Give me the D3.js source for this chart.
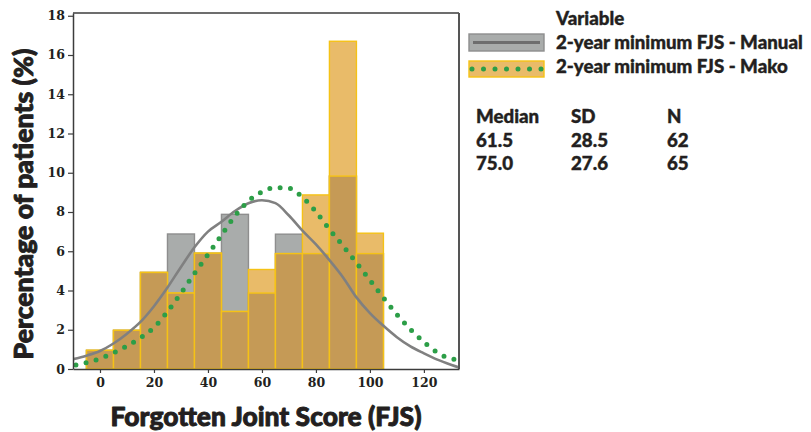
<!DOCTYPE html>
<html>
<head>
<meta charset="utf-8">
<script src="https://cdn.jsdelivr.net/npm/d3@7"></script>
<style>
  html, body { margin: 0; padding: 0; background: #fff; }
  svg { display: block; }
</style>
</head>
<body>
<svg id="chart" width="811" height="432"></svg>
<script>
// ---------------- data ----------------
const binCenters = [0, 10, 20, 30, 40, 50, 60, 70, 80, 90, 100];
const binWidth = 10;
const manualPct = [0.95, 1.97, 4.92, 6.88, 5.90, 7.88, 3.87, 6.87, 5.88, 9.83, 5.88];
const makoPct   = [0.95, 1.97, 4.92, 3.87, 5.90, 2.93, 5.07, 5.88, 8.87, 16.70, 6.92];

const curveX      = [-10, -5, 0, 5, 10, 15, 20, 25, 30, 35, 40, 45, 50, 55, 60, 65, 70, 75, 80, 85, 90, 95, 100, 105, 110, 115, 120, 125, 130, 133];
const manualCurve = [0.50, 0.68, 0.92, 1.30, 1.80, 2.40, 3.20, 4.15, 5.20, 6.20, 7.00, 7.50, 8.05, 8.45, 8.60, 8.45, 7.82, 7.05, 6.35, 5.55, 4.68, 3.65, 2.85, 2.20, 1.62, 1.15, 0.80, 0.48, 0.22, 0.08];
const makoCurve   = [0.17, 0.33, 0.53, 0.82, 1.17, 1.59, 2.12, 2.92, 3.87, 4.87, 5.83, 6.82, 7.80, 8.56, 9.02, 9.24, 9.21, 8.76, 8.01, 7.12, 6.28, 5.41, 4.53, 3.63, 2.78, 2.02, 1.37, 0.84, 0.52, 0.47];

const xTicks = [0, 20, 40, 60, 80, 100, 120];
const yTicks = [0, 2, 4, 6, 8, 10, 12, 14, 16, 18];

const seriesNames = ["2-year minimum FJS - Manual", "2-year minimum FJS - Mako"];
const statHeaders = ["Median", "SD", "N"];
const statRows = [["61.5", "28.5", "62"], ["75.0", "27.6", "65"]];

// ---------------- styles ----------------
const C = {
  grayFill: "#a9acab", grayStroke: "#8e8e8e",
  orangeFill: "#e9bb69", overlapFill: "#c59a56", gold: "#f5c216",
  grayLine: "#808080", green: "#2c9e47", text: "#231f20", axis: "#3c3c3c"
};
const titleFont = "Lato, 'Open Sans', 'DejaVu Sans', sans-serif";
const tickFont = "'DejaVu Serif', serif";

const svg = d3.select("#chart");
const L = 73, R = 459, T = 13, B = 369;
const x = d3.scaleLinear().domain([-10, 133]).range([L, R]);
const y = d3.scaleLinear().domain([0, 18.14]).range([B, T]);

// clip
svg.append("defs").append("clipPath").attr("id", "plotclip")
  .append("rect").attr("x", L).attr("y", T).attr("width", R - L).attr("height", B - T);

const bins = binCenters.map((c, i) => ({ c, m: manualPct[i], k: makoPct[i] }));
const bars = svg.append("g");
bars.selectAll("rect.man").data(bins).join("rect").attr("class", "man")
  .attr("x", d => x(d.c - binWidth / 2)).attr("width", d => x(d.c + binWidth / 2) - x(d.c - binWidth / 2))
  .attr("y", d => y(d.m)).attr("height", d => y(0) - y(d.m))
  .attr("fill", C.grayFill).attr("stroke", C.grayStroke).attr("stroke-width", 1.4);
bars.selectAll("rect.mak").data(bins).join("rect").attr("class", "mak")
  .attr("x", d => x(d.c - binWidth / 2)).attr("width", d => x(d.c + binWidth / 2) - x(d.c - binWidth / 2))
  .attr("y", d => y(d.k)).attr("height", d => y(0) - y(d.k))
  .attr("fill", C.orangeFill).attr("stroke", C.gold).attr("stroke-width", 1.4);
bars.selectAll("rect.ovl").data(bins).join("rect").attr("class", "ovl")
  .attr("x", d => x(d.c - binWidth / 2)).attr("width", d => x(d.c + binWidth / 2) - x(d.c - binWidth / 2))
  .attr("y", d => y(Math.min(d.m, d.k))).attr("height", d => y(0) - y(Math.min(d.m, d.k)))
  .attr("fill", C.overlapFill).attr("stroke", C.gold).attr("stroke-width", 1.4);

// curves
const line = d3.line().x(d => x(d[0])).y(d => y(d[1])).curve(d3.curveMonotoneX);
const cg = svg.append("g").attr("clip-path", "url(#plotclip)");
cg.append("path").datum(curveX.map((v, i) => [v, manualCurve[i]]))
  .attr("d", line).attr("fill", "none").attr("stroke", C.grayLine).attr("stroke-width", 2.6);
cg.append("path").datum(curveX.map((v, i) => [v, makoCurve[i]]))
  .attr("d", line).attr("fill", "none").attr("stroke", C.green).attr("stroke-width", 5)
  .attr("stroke-linecap", "round").attr("stroke-dasharray", "0 10.4").attr("stroke-dashoffset", -3);

// frame (top/right)
svg.append("line").attr("x1", L).attr("x2", R).attr("y1", T).attr("y2", T).attr("stroke", C.axis).attr("stroke-width", 1.5);
svg.append("line").attr("x1", R).attr("x2", R).attr("y1", T).attr("y2", B).attr("stroke", "#555").attr("stroke-width", 2);

// axes
const yAxis = svg.append("g").attr("transform", `translate(${L},0)`)
  .call(d3.axisLeft(y).tickValues(yTicks).tickSize(5).tickSizeOuter(0).tickPadding(3));
const xAxis = svg.append("g").attr("transform", `translate(0,${B})`)
  .call(d3.axisBottom(x).tickValues(xTicks).tickSize(4).tickSizeOuter(0).tickPadding(5));
[yAxis, xAxis].forEach(a => {
  a.select(".domain").attr("stroke", C.axis).attr("stroke-width", 1.5);
  a.selectAll(".tick line").attr("stroke", C.axis).attr("stroke-width", 1.2);
  a.selectAll(".tick text").attr("fill", C.text).style("font-family", tickFont)
    .style("font-weight", "bold").style("font-size", "12.5px");
});

function fit(sel, width) {
  const base = parseFloat(sel.style("font-size"));
  const w = sel.node().getComputedTextLength();
  sel.style("font-size", (base * width / w).toFixed(2) + "px");
}
function heavy(sel, w) {
  return sel.attr("stroke", C.text).attr("stroke-width", w).attr("stroke-linejoin", "round");
}

// axis titles
const xt = svg.append("text").attr("x", (L + R) / 2).attr("y", 426).attr("text-anchor", "middle")
  .attr("fill", C.text).style("font-family", titleFont).style("font-weight", 900).style("font-size", "22px")
  .text("Forgotten Joint Score (FJS)");
fit(xt, 311); heavy(xt, 0.9);
const yt = svg.append("text").attr("transform", "translate(33,204) rotate(-90)").attr("text-anchor", "middle")
  .attr("fill", C.text).style("font-family", titleFont).style("font-weight", 900).style("font-size", "22px")
  .text("Percentage of patients (%)");
fit(yt, 311); heavy(yt, 0.9);

// legend
const lg = svg.append("g");
lg.append("rect").attr("x", 469).attr("y", 34).attr("width", 75).attr("height", 17)
  .attr("fill", C.grayFill).attr("stroke", C.grayStroke).attr("stroke-width", 1.4);
lg.append("line").attr("x1", 473).attr("x2", 540).attr("y1", 42.5).attr("y2", 42.5)
  .attr("stroke", "#6e6e6e").attr("stroke-width", 3);
lg.append("rect").attr("x", 469).attr("y", 61).attr("width", 75).attr("height", 16)
  .attr("fill", C.orangeFill).attr("stroke", C.gold).attr("stroke-width", 1.4);
lg.append("line").attr("x1", 472).attr("x2", 543).attr("y1", 69).attr("y2", 69)
  .attr("stroke", C.green).attr("stroke-width", 5).attr("stroke-linecap", "round").attr("stroke-dasharray", "0 11.5");
const lt1 = lg.append("text").attr("x", 556).attr("y", 48.5).attr("fill", C.text)
  .style("font-family", titleFont).style("font-weight", 900).style("font-size", "15px").text(seriesNames[0]);
fit(lt1, 247); heavy(lt1, 0.4);
const fs = lt1.style("font-size");
const lv = lg.append("text").attr("x", 556).attr("y", 24.5).attr("fill", C.text)
  .style("font-family", titleFont).style("font-weight", 900).style("font-size", fs).text("Variable");
heavy(lv, 0.4);
const lt2 = lg.append("text").attr("x", 556).attr("y", 72.5).attr("fill", C.text)
  .style("font-family", titleFont).style("font-weight", 900).style("font-size", fs).text(seriesNames[1]);
heavy(lt2, 0.4);

// stats table
const colX = [476, 571, 667];
const rowY = [122.5, 146.5, 170];
const tb = svg.append("g").attr("fill", C.text).attr("stroke", C.text).attr("stroke-width", 0.4)
  .style("font-family", titleFont).style("font-weight", 900).style("font-size", fs);
statHeaders.forEach((h, i) => tb.append("text").attr("x", colX[i]).attr("y", rowY[0]).text(h));
statRows.forEach((r, j) => r.forEach((v, i) => tb.append("text").attr("x", colX[i]).attr("y", rowY[j + 1]).text(v)));
</script>
</body>
</html>
